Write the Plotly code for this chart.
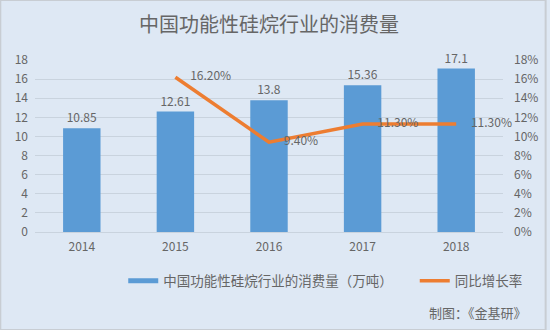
import plotly.graph_objects as go

years = ["2014", "2015", "2016", "2017", "2018"]
consumption = [10.85, 12.61, 13.8, 15.36, 17.1]
growth_years = ["2015", "2016", "2017", "2018"]
growth_rate = [16.20, 9.40, 11.30, 11.30]
left_ticks = list(range(0, 20, 2))
right_ticks = list(range(0, 20, 2))

FONT = "Noto Sans CJK SC"
GREY = "#666666"
BG = "#DEE8F4"
BLUE = "#5B9BD5"
ORANGE = "#ED7D31"

# plot area in pixels
PW, PH = 472, 172
ML, MR, MT, MB = 35, 43, 60, 98

fig = go.Figure()
fig.add_trace(go.Bar(
    x=years, y=consumption, name="中国功能性硅烷行业的消费量（万吨）",
    marker=dict(color=BLUE, line=dict(width=0)),
    width=0.4, showlegend=False,
    text=[f"{v:g}" for v in consumption], textposition="outside",
    textfont=dict(size=12, color=GREY, family=FONT), cliponaxis=False,
))
fig.add_trace(go.Scatter(
    x=growth_years, y=growth_rate, name="同比增长率", yaxis="y2",
    mode="lines+markers+text", line=dict(color=ORANGE, width=3.5),
    marker=dict(size=22, color="rgba(0,0,0,0)"),
    text=[f"{v:.2f}%" for v in growth_rate], textposition="middle right",
    textfont=dict(size=12, color=GREY, family=FONT), cliponaxis=False,
    showlegend=False,
))
# legend entries drawn as thick line swatches
fig.add_trace(go.Scatter(
    x=[None], y=[None], mode="lines", name="中国功能性硅烷行业的消费量（万吨）",
    line=dict(color=BLUE, width=5), legend="legend",
))
fig.add_trace(go.Scatter(
    x=[None], y=[None], mode="lines", name="同比增长率",
    line=dict(color=ORANGE, width=3.5), legend="legend2",
))

legend_style = dict(orientation="h", xanchor="left", yanchor="middle",
                    y=-(281 - 232) / PH, bgcolor="rgba(0,0,0,0)", itemwidth=30,
                    font=dict(size=13.5, color=GREY, family=FONT))

fig.update_layout(
    width=550, height=330,
    margin=dict(l=ML, r=MR, t=MT, b=MB),
    paper_bgcolor=BG, plot_bgcolor=BG,
    font=dict(family=FONT, color=GREY, size=12),
    title=dict(text="中国功能性硅烷行业的消费量", x=(271 - ML) / PW, xref="paper",
               xanchor="center", y=1 - 25 / 330, yanchor="middle",
               font=dict(size=20, color=GREY, family=FONT)),
    showlegend=True,
    legend=dict(x=(124 - ML) / PW, **legend_style),
    legend2=dict(x=(418 - ML) / PW, **legend_style),
    xaxis=dict(type="category", showgrid=False, showline=True, linecolor="#C9D3DE",
               ticks="", tickfont=dict(size=12, color=GREY), ticklabelstandoff=4),
    yaxis=dict(range=[0, 18], tickvals=left_ticks, showgrid=True, gridcolor="#C9D3DE",
               gridwidth=1, zeroline=False, showline=False, ticks="",
               tickfont=dict(size=12, color=GREY), ticklabelstandoff=6),
    yaxis2=dict(range=[0, 18], tickvals=right_ticks, ticktext=[f"{t}%" for t in right_ticks],
                overlaying="y", side="right", showgrid=False, zeroline=False,
                showline=False, ticks="", tickfont=dict(size=12, color=GREY),
                ticklabelstandoff=10),
    shapes=[dict(type="rect", xref="paper", yref="paper", x0=-ML / PW, x1=1 + MR / PW,
                 y0=-MB / PH, y1=1 + MT / PH, line=dict(color="#C8CDD3", width=2),
                 fillcolor="rgba(0,0,0,0)")],
    annotations=[dict(text="制图：《金基研》", xref="paper", yref="paper",
                      x=(533 - ML) / PW, y=-(312 - 232) / PH, xanchor="right",
                      yanchor="middle", showarrow=False,
                      font=dict(size=13, color=GREY, family=FONT))],
)

fig.write_html("out.html")
